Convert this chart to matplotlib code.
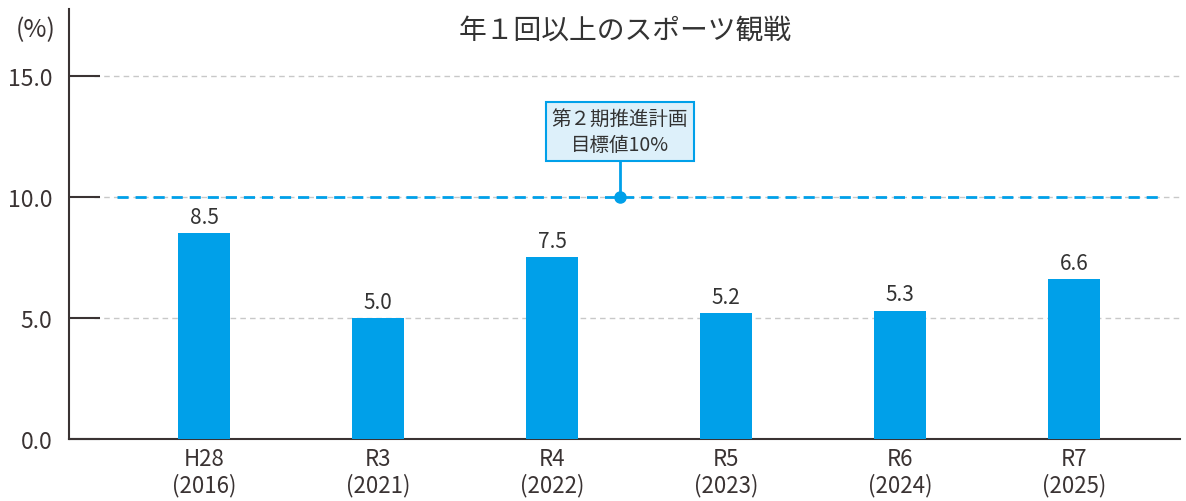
import matplotlib
matplotlib.use("Agg")
import matplotlib.pyplot as plt
import numpy as np

plt.rcParams['font.family'] = ['Noto Sans CJK JP', 'DejaVu Sans']

years = ["H28\n(2016)", "R3\n(2021)", "R4\n(2022)", "R5\n(2023)", "R6\n(2024)", "R7\n(2025)"]
values = [8.5, 5.0, 7.5, 5.2, 5.3, 6.6]
yticks = [0.0, 5.0, 10.0, 15.0]
target = 10.0
title = "年１回以上のスポーツ観戦"
target_label = "第２期推進計画\n目標値10%"

blue = "#00a0e9"
dark = "#3a3333"

fig = plt.figure(figsize=(11.86, 5.02), dpi=100)
ax = fig.add_axes([0.0582, 0.1235, 0.937, 0.8565])

x = np.arange(len(values))
ax.bar(x, values, width=0.3, color=blue, zorder=3)
for xi, v in zip(x, values):
    ax.text(xi, v + 0.22, "%.1f" % v, ha="center", va="bottom", fontsize=15, color="#333333")

ax.set_xlim(-0.776, 5.61)
ax.set_ylim(0, 17.75)

for t in yticks[1:]:
    ax.plot([-0.63, 5.61], [t, t], color="#c8c8c8", lw=1, ls=(0, (4, 3)), zorder=1)

ax.plot([-0.5, 5.5], [target, target], color=blue, lw=2, ls=(0, (4, 2.5)), zorder=2)
ax.plot([2.39], [target], "o", color=blue, ms=8, zorder=4)
ax.plot([2.39, 2.39], [target, 11.55], color=blue, lw=2, zorder=4)
ax.text(2.39, 12.7, target_label, ha="center", va="center", fontsize=14, color="#333333",
        linespacing=1.3, zorder=5,
        bbox=dict(boxstyle="square,pad=0.3", fc="#ddf0fa", ec=blue, lw=1.5))

ax.set_yticks(yticks)
ax.set_yticklabels(["%.1f" % t for t in yticks], fontsize=16.5, color=dark)
ax.set_xticks(x)
ax.set_xticklabels(years, fontsize=16, color=dark, linespacing=1.15)
ax.tick_params(axis="y", direction="in", length=22, width=1.5, color=dark, pad=12)
ax.tick_params(axis="x", length=0, pad=6)

for s in ["top", "right"]:
    ax.spines[s].set_visible(False)
for s in ["left", "bottom"]:
    ax.spines[s].set_color(dark)
    ax.spines[s].set_linewidth(1.5)

fig.text(0.527, 0.94, title, ha="center", va="center", fontsize=20, color="#333333")
fig.text(0.03, 0.94, "(%)", ha="center", va="center", fontsize=18, color=dark)

fig.savefig("out.png", dpi=100)
